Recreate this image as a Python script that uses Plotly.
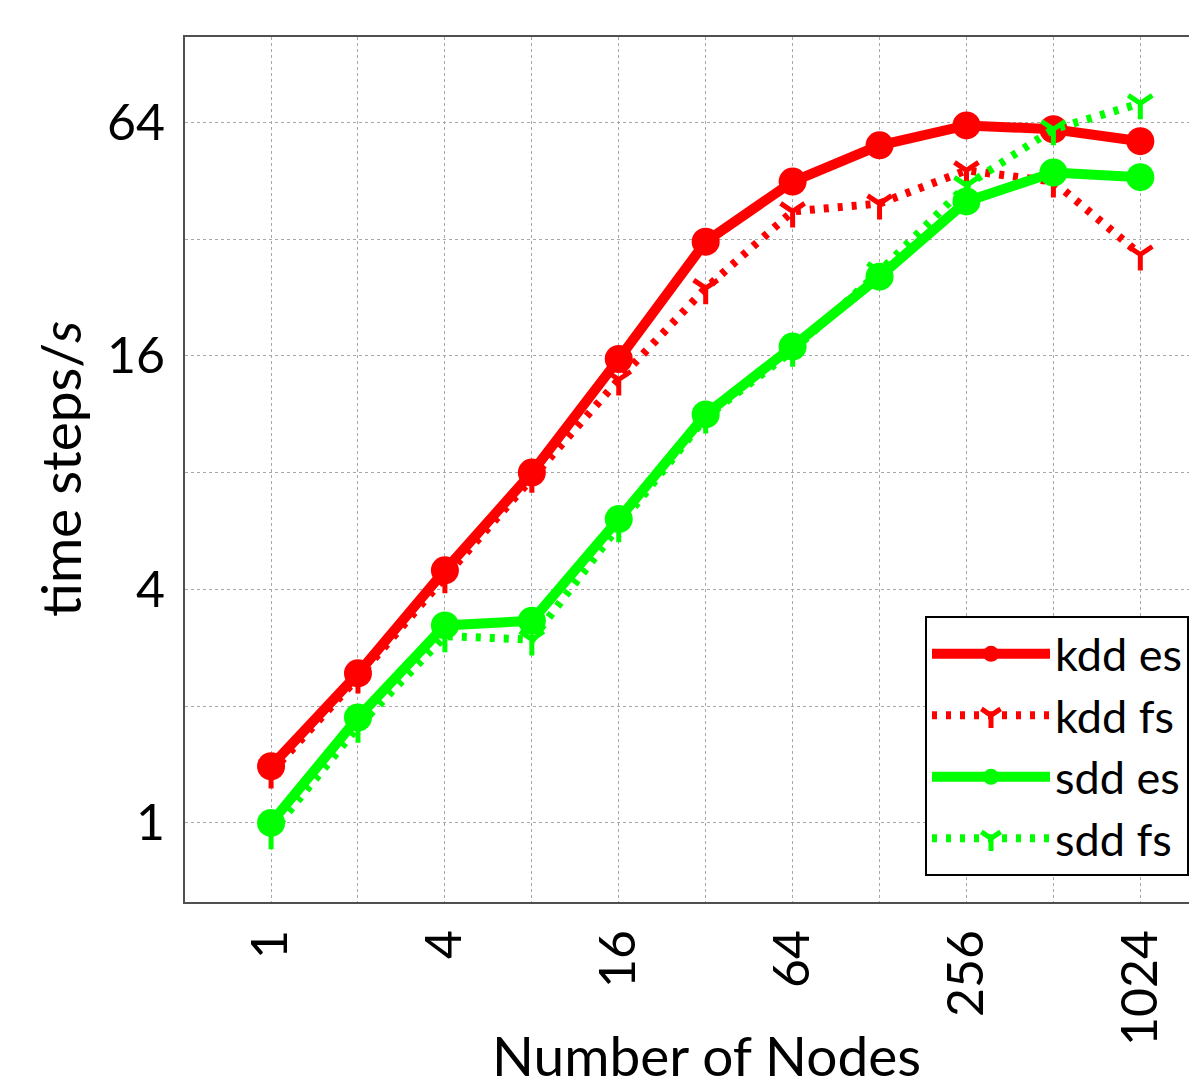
import plotly.graph_objects as go
import math

nodes = [1, 2, 4, 8, 16, 32, 64, 128, 256, 512, 1024]
kdd_es = [1.40, 2.43, 4.48, 8.0, 15.7, 31.5, 45.0, 55.8, 62.8, 61.4, 57.2]
kdd_fs = [1.35, 2.37, 4.3, 7.8, 13.9, 23.9, 37.7, 39.5, 48.1, 45.0, 29.2]
sdd_es = [1.0, 1.87, 3.23, 3.32, 6.07, 11.3, 16.9, 25.6, 40.0, 47.5, 46.2]
sdd_fs = [0.94, 1.77, 3.03, 2.97, 5.82, 11.1, 16.5, 26.4, 44.0, 61.4, 71.6]

x_ticks = [1, 2, 4, 8, 16, 32, 64, 128, 256, 512, 1024]
x_labels = ["1", "", "4", "", "16", "", "64", "", "256", "", "1024"]
y_ticks = [1, 2, 4, 8, 16, 32, 64]
y_labels = ["1", "", "4", "", "16", "", "64"]

RED = "#ff0000"
GREEN = "#00ff00"
FONT = "Lato"

fig = go.Figure()

def es_trace(y, name, color):
    return go.Scatter(x=nodes, y=y, name=name, mode="lines+markers",
                      line=dict(color=color, width=10),
                      marker=dict(symbol="circle", size=28, color=color))

def fs_trace(y, name, color):
    return go.Scatter(x=nodes, y=y, name=name, mode="lines+markers",
                      line=dict(color=color, width=8, dash="5px,9px"),
                      marker=dict(symbol="y-down-open", size=20,
                                  line=dict(color=color, width=5), color=color))

fig.add_trace(es_trace(kdd_es, "kdd es", RED))
fig.add_trace(fs_trace(kdd_fs, "kdd fs", RED))
fig.add_trace(es_trace(sdd_es, "sdd es", GREEN))
fig.add_trace(fs_trace(sdd_fs, "sdd fs", GREEN))

l2 = math.log10(2)
fig.update_xaxes(type="log", range=[-0.99 * l2, 10.56 * l2],
                 tickvals=x_ticks, ticktext=x_labels, tickangle=-90,
                 showgrid=True, gridcolor="#a8a8a8", gridwidth=1, griddash="dot",
                 showline=True, linecolor="#505050", linewidth=2, mirror=True,
                 ticks="", ticklabelstandoff=6,
                 tickfont=dict(family=FONT, size=50, color="black"))
fig.update_yaxes(type="log", range=[-0.677 * l2, 6.73 * l2],
                 tickvals=y_ticks, ticktext=y_labels,
                 showgrid=True, gridcolor="#a8a8a8", gridwidth=1, griddash="dot",
                 showline=True, linecolor="#505050", linewidth=2, mirror=False,
                 ticks="", ticklabelstandoff=8,
                 tickfont=dict(family=FONT, size=50, color="black"))

fig.add_annotation(text="Number of Nodes", xref="paper", yref="paper",
                   x=0.519, y=-0.177, showarrow=False, xanchor="center", yanchor="middle",
                   font=dict(family=FONT, size=55, color="black"))
fig.add_annotation(text="time steps/<i>s</i>", xref="paper", yref="paper",
                   x=-0.125, y=0.5, showarrow=False, textangle=-90,
                   xanchor="center", yanchor="middle",
                   font=dict(family=FONT, size=55, color="black"))

fig.update_layout(
    width=1189, height=1088,
    margin=dict(l=185, r=0, t=37, b=186),
    paper_bgcolor="white", plot_bgcolor="white",
    showlegend=True,
    legend=dict(x=1, y=0.03, xanchor="right", yanchor="bottom",
                bgcolor="white", bordercolor="black", borderwidth=2,
                font=dict(family=FONT, size=45, color="black"),
                itemwidth=118, tracegroupgap=0),
)

fig.write_html("out.html")
